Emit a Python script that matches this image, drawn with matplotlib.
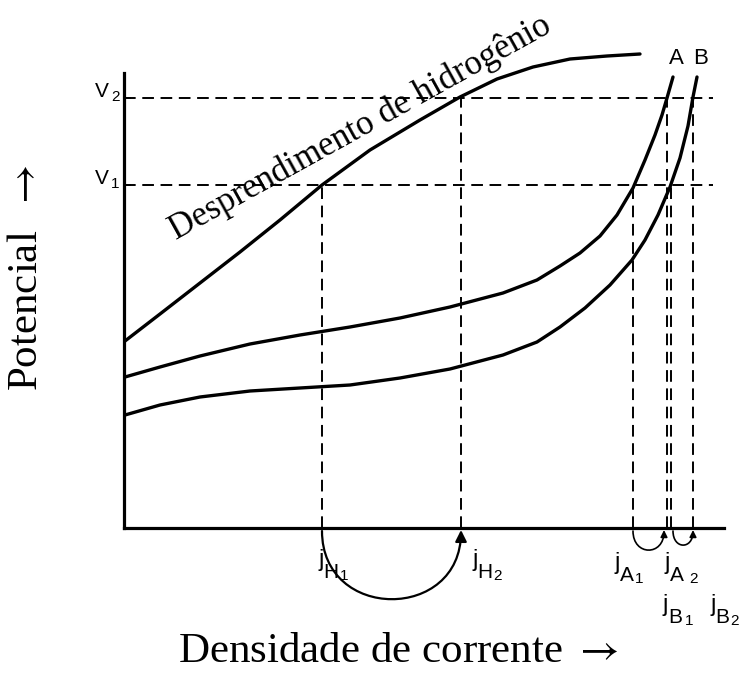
import matplotlib
matplotlib.use("Agg")
import matplotlib.pyplot as plt
from matplotlib.patches import FancyArrowPatch
from matplotlib.path import Path

plt.rcParams['mathtext.fontset'] = 'stix'

# curves (x = current density, y = potential)
h_x = [1, 36, 76, 116, 156, 198, 246, 296, 336, 373, 409, 446, 483, 516]
h_y = [187, 214, 245, 276, 308, 343, 378, 408, 431, 449, 461, 469, 472, 474]

a_x = [1, 36, 76, 126, 176, 226, 276, 326, 379, 413, 436, 456, 476, 493, 509, 521, 531, 538, 543, 549]
a_y = [151, 161, 172, 184, 193, 201, 210, 221, 235, 248, 262, 275, 292, 313, 340, 368, 393, 413, 430, 451]

b_x = [1, 36, 76, 126, 176, 226, 276, 326, 379, 413, 436, 461, 486, 508, 521, 534, 546, 556, 564, 569, 573]
b_y = [113, 123, 131, 137, 140, 143, 150, 159, 173, 186, 201, 220, 243, 268, 288, 313, 341, 370, 402, 431, 451]

V1, V2 = 343, 430

# projections of the curves on the current axis
j_x = [198, 337, 509, 543, 547, 569]
j_top = [V1, V2, V1, V2, V1, V2]
j_sub = [('H', '1'), ('H', '2'), ('A', '1'), ('A', '2'), ('B', '1'), ('B', '2')]

SANS = 'Liberation Sans'
SERIF = ['Liberation Serif', 'DejaVu Serif']

fig = plt.figure(figsize=(7.4, 6.73), dpi=100)
ax = fig.add_axes([124 / 740, 145 / 673, 600 / 740, 455 / 673])
ax.set_xlim(0, 600)
ax.set_ylim(0, 455)

lw = 2.4
for xs, ys in ((h_x, h_y), (a_x, a_y), (b_x, b_y)):
    ax.plot(xs, ys, color='black', lw=lw, solid_capstyle='round',
            solid_joinstyle='round', clip_on=False)

dash = dict(color='black', lw=1.4, linestyle=(0, (6, 3.4)), clip_on=False)
for v in (V1, V2):
    ax.plot([0, 589], [v, v], **dash)
for x, top in zip(j_x, j_top):
    ax.plot([x, x], [0, top], **dash)

for s in ('top', 'right'):
    ax.spines[s].set_visible(False)
for s in ('left', 'bottom'):
    ax.spines[s].set_linewidth(2.3)
ax.set_xticks([])
ax.set_yticks([V1, V2])
ax.set_yticklabels([])
ax.tick_params(axis='y', direction='in', length=5, width=1.3)


def sublabel(x, y, base, letter, digit, dx, dy, base_size, letter_size, digit_size,
             letter_dx=0, letter_dy=0, digit_dx=1, digit_dy=0):
    # base glyph, then subscript letter, then its digit, chained together
    t = ax.annotate(base, xy=(x, y), xytext=(dx, dy), textcoords='offset pixels',
                    fontsize=base_size, fontfamily=SANS, ha='left', va='baseline',
                    annotation_clip=False)
    last = t
    if letter:
        last = ax.annotate(letter, xy=(1, 0), xycoords=t, xytext=(letter_dx, letter_dy),
                           textcoords='offset pixels', fontsize=letter_size,
                           fontfamily=SANS, ha='left', va='baseline')
    ax.annotate(digit, xy=(1, 0), xycoords=last, xytext=(digit_dx, digit_dy),
                textcoords='offset pixels', fontsize=digit_size, fontfamily=SANS,
                ha='left', va='baseline')


# j labels: offsets in pixels from the foot of each projection
j_off = [(-4, -38), (11, -38), (-18, -41), (-2, -41), (-8, -83), (17, -83)]
digit_gap = [1, 1, 1, 5, 2, 1]
for x, (letter, digit), (dx, dy), g in zip(j_x, j_sub, j_off, digit_gap):
    sublabel(x, 0, 'j', letter, digit, dx, dy, 17, 15, 11,
             letter_dx=0, letter_dy=-7, digit_dx=g, digit_dy=2)

# potential labels on the left of the axis
for v, d in ((V1, '1'), (V2, '2')):
    sublabel(0, v, 'V', None, d, -29, 1, 15, 0, 11, digit_dx=2, digit_dy=0)

ax.text(552, 464, 'A', fontsize=16, fontfamily=SANS, ha='center', va='baseline', clip_on=False)
ax.text(577, 464, 'B', fontsize=16, fontfamily=SANS, ha='center', va='baseline', clip_on=False)


# arc arrows under the axis
def arc(x1, x2, depth, **kw):
    k = 4 / 3 * depth
    p = Path([(x1, -3), (x1, -3 - k), (x2, -3 - k), (x2, -2)],
             [Path.MOVETO, Path.CURVE4, Path.CURVE4, Path.CURVE4])
    ax.add_patch(FancyArrowPatch(path=p, arrowstyle='-|>', color='black',
                                 clip_on=False, **kw))


arc(j_x[0], j_x[1], 68, lw=1.6, mutation_scale=17)
arc(j_x[2], j_x[3] - 3, 19, lw=1.2, mutation_scale=10)
arc(j_x[4] + 2, j_x[5], 14, lw=1.2, mutation_scale=10)

ax.text(236, 400, 'Desprendimento de hidrogênio', fontsize=25,
        fontfamily=SERIF, rotation=29,
        ha='center', va='center', rotation_mode='anchor', clip_on=False)

fig.text(27 / 740, 1 - 278 / 673, r'Potencial  $\rightarrow$', fontsize=31,
         fontfamily=SERIF, rotation=90, ha='center', va='center')
fig.text(398 / 740, 1 - 652 / 673, r'Densidade de corrente $\rightarrow$', fontsize=31,
         fontfamily=SERIF, ha='center', va='center')

fig.savefig('out.png', dpi=100)
